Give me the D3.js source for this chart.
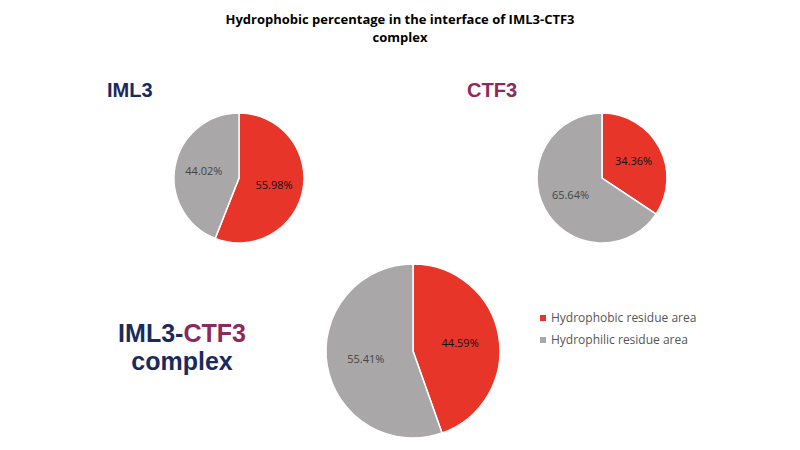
<!DOCTYPE html>
<html><head><meta charset="utf-8">
<script src="https://cdn.jsdelivr.net/npm/d3@7"></script>
<style>body{margin:0;background:#fff}</style></head>
<body><svg id="chart" width="800" height="450"></svg>
<script>
var categories = ["Hydrophobic residue area", "Hydrophilic residue area"];
var iml3Values = [55.98, 44.02];
var ctf3Values = [34.36, 65.64];
var complexValues = [44.59, 55.41];
var colors = ["#E8352A", "#A9A7A8"];

var svg = d3.select("#chart");
var font = "'Open Sans', 'Noto Sans', sans-serif";

svg.append("text").attr("x", 400).attr("y", 24).attr("text-anchor", "middle")
  .attr("font-family", font).attr("font-weight", "bold").attr("font-size", 13)
  .text("Hydrophobic percentage in the interface of IML3-CTF3");
svg.append("text").attr("x", 400).attr("y", 42).attr("text-anchor", "middle")
  .attr("font-family", font).attr("font-weight", "bold").attr("font-size", 13)
  .text("complex");

function drawPie(values, cx, cy, r) {
  var pie = d3.pie().sort(null)(values);
  var arc = d3.arc().innerRadius(0).outerRadius(r);
  var lab = d3.arc().innerRadius(r * 0.5).outerRadius(r * 0.6);
  var g = svg.append("g").attr("transform", "translate(" + cx + "," + cy + ")");
  g.selectAll("path").data(pie).enter().append("path")
    .attr("d", arc).attr("fill", function (d, i) { return colors[i]; })
    .attr("stroke", "#fff").attr("stroke-width", 1.5);
  g.selectAll("text").data(pie).enter().append("text")
    .attr("transform", function (d) { return "translate(" + lab.centroid(d) + ")"; })
    .attr("text-anchor", "middle").attr("dy", "0.35em")
    .attr("font-family", font).attr("font-size", 11)
    .attr("fill", function (d, i) { return i === 0 ? "#111" : "#444"; })
    .text(function (d) { return d.data.toFixed(2) + "%"; });
}
drawPie(iml3Values, 239, 178, 65);
drawPie(ctf3Values, 602, 178, 65);
drawPie(complexValues, 413, 351, 87);

svg.append("text").attr("x", 107).attr("y", 97).attr("font-family", "Arial, 'Liberation Sans', sans-serif")
  .attr("font-weight", "bold").attr("font-size", 20).attr("fill", "#1B2A5E").text("IML3");
svg.append("text").attr("x", 467).attr("y", 97).attr("font-family", "Arial, 'Liberation Sans', sans-serif")
  .attr("font-weight", "bold").attr("font-size", 20).attr("fill", "#8E2A5B").text("CTF3");

var big = svg.append("text").attr("x", 182).attr("y", 342).attr("text-anchor", "middle")
  .attr("font-family", "Arial, 'Liberation Sans', sans-serif").attr("font-weight", "bold").attr("font-size", 25);
big.append("tspan").attr("fill", "#1B2A5E").text("IML3-");
big.append("tspan").attr("fill", "#8E2A5B").text("CTF3");
svg.append("text").attr("x", 182).attr("y", 370).attr("text-anchor", "middle")
  .attr("font-family", "Arial, 'Liberation Sans', sans-serif").attr("font-weight", "bold").attr("font-size", 25)
  .attr("fill", "#1B2A5E").text("complex");

var leg = svg.selectAll("g.leg").data(categories).enter().append("g").attr("class", "leg")
  .attr("transform", function (d, i) { return "translate(540," + (318 + i * 22) + ")"; });
leg.append("rect").attr("x", 0).attr("y", -3).attr("width", 6).attr("height", 6)
  .attr("fill", function (d, i) { return colors[i]; });
leg.append("text").attr("x", 11).attr("dy", "0.35em").attr("font-family", font)
  .attr("font-size", 12).attr("fill", "#555").text(function (d) { return d; });
</script></body></html>
